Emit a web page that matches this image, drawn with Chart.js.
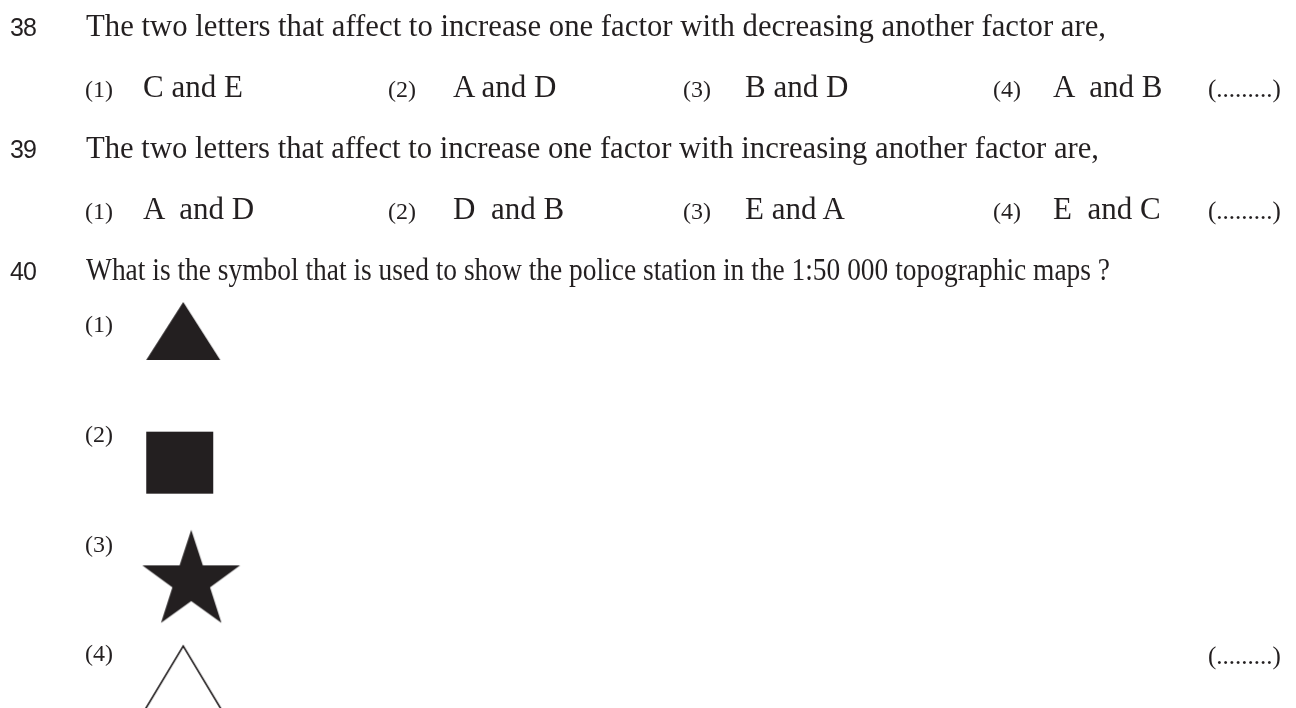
<!DOCTYPE html>
<html>
<head>
<meta charset="utf-8">
<script src="https://cdn.jsdelivr.net/npm/chart.js@4.4.1/dist/chart.umd.min.js"></script>
<style>
  html, body { margin: 0; padding: 0; background: #ffffff; width: 1296px; height: 708px; overflow: hidden; }
  #page { position: relative; width: 1296px; height: 708px; }
  #symbolCanvas { position: absolute; left: 0; top: 0; }
  .txt { position: absolute; white-space: pre; color: #231f20; line-height: 1; transform-origin: 0 0; }
  .serif { font-family: "Liberation Serif", "Times New Roman", serif; }
  .qnum { font-family: "Liberation Sans", Arial, sans-serif; letter-spacing: -1px; }
</style>
</head>
<body>
<div id="page"><canvas id="symbolCanvas" width="1296" height="708"></canvas></div>
<script>
var questionNumbers = ['38', '39', '40'];
var questionTexts = [
    'The two letters that affect to increase one factor with decreasing another factor are,',
    'The two letters that affect to increase one factor with increasing another factor are,',
    'What is the symbol that is used to show the police station in the 1:50 000 topographic maps ?'
];
var choiceLabels = ['(1)', '(2)', '(3)', '(4)'];
var answers38 = ['C and E', 'A and D', 'B and D', 'A  and B'];
var answers39 = ['A  and D', 'D  and B', 'E and A', 'E  and C'];
var answerBlank = '(.........)';
var symbols40 = ['filledTriangle', 'filledSquare', 'filledStar', 'openTriangle'];

var ink = '#231f20';
var page = document.getElementById('page');

// text rows (baselines), answer columns and where each question line ends
var questionRows = [36, 158, 280];
var questionEnds = [1106, 1099, 1110];
var answerRows = [97, 219];
var labelCols = [85, 388, 683, 993];
var answerCols = [143, 453, 745, 1053];

function putText(str, x, baseline, cls, size, ratio) {
    var el = document.createElement('div');
    el.className = 'txt ' + cls;
    el.style.fontSize = size + 'px';
    el.style.left = x + 'px';
    el.style.top = (baseline - size * ratio) + 'px';
    el.textContent = str;
    page.appendChild(el);
    return el;
}

for (var q = 0; q < questionNumbers.length; q++) {
    putText(questionNumbers[q], 10, questionRows[q], 'qnum', 25, 0.8465);
    var line = putText(questionTexts[q], 86, questionRows[q], 'serif', 31, 0.8375);
    // the printed lines are set a little tighter than Liberation Serif
    var w = line.getBoundingClientRect().width;
    line.style.transform = 'scaleX(' + ((questionEnds[q] - 86) / w) + ')';
}

var answerSets = [answers38, answers39];
for (var r = 0; r < answerSets.length; r++) {
    for (var c = 0; c < choiceLabels.length; c++) {
        putText(choiceLabels[c], labelCols[c], answerRows[r], 'serif', 24, 0.8375);
        putText(answerSets[r][c], answerCols[c], answerRows[r], 'serif', 31, 0.8375);
    }
    putText(answerBlank, 1208, answerRows[r], 'serif', 25, 0.8375);
}
putText(answerBlank, 1208, 664, 'serif', 25, 0.8375);

// symbol sprites used as point styles
function makeSymbol(kind) {
    var size = 220, m = size / 2;
    var cv = document.createElement('canvas');
    cv.width = size;
    cv.height = size;
    var ctx = cv.getContext('2d');
    ctx.fillStyle = ink;
    ctx.strokeStyle = ink;
    ctx.lineWidth = 1.6;
    ctx.beginPath();
    if (kind === 'filledTriangle') {
        ctx.moveTo(m, m - 24);
        ctx.lineTo(m + 37, m + 34);
        ctx.lineTo(m - 37, m + 34);
        ctx.closePath();
        ctx.fill();
    } else if (kind === 'filledSquare') {
        ctx.rect(m - 37, m - 4, 67, 62);
        ctx.fill();
    } else if (kind === 'filledStar') {
        var cx = m + 8, cy = m + 36, R = 51.4;
        for (var i = 0; i < 10; i++) {
            var a = -Math.PI / 2 + i * Math.PI / 5;
            var rr = i % 2 === 0 ? R : R * 0.385;
            var px = cx + rr * Math.cos(a), py = cy + rr * Math.sin(a);
            if (i === 0) ctx.moveTo(px, py); else ctx.lineTo(px, py);
        }
        ctx.closePath();
        ctx.fill();
    } else {
        ctx.moveTo(m - 48, m + 71);
        ctx.lineTo(m, m - 9);
        ctx.lineTo(m + 48, m + 71);
        ctx.stroke();
    }
    return cv;
}

var symbolPoints = [];
for (var s = 0; s < choiceLabels.length; s++) {
    symbolPoints.push({x: 'symbol', y: choiceLabels[s]});
}

var symbolChart = new Chart(document.getElementById('symbolCanvas'), {
    type: 'scatter',
    data: {
        datasets: [{
            label: 'Question 40',
            data: symbolPoints,
            pointStyle: symbols40.map(makeSymbol),
            pointRadius: 10,
            clip: false
        }]
    },
    options: {
        responsive: false,
        animation: false,
        events: [],
        layout: { padding: { top: 326, bottom: 53, left: 85, right: 1080 } },
        plugins: { legend: { display: false }, tooltip: { enabled: false } },
        scales: {
            x: { type: 'category', labels: ['symbol'], offset: true, display: false },
            y: {
                type: 'category',
                labels: choiceLabels,
                offset: false,
                grid: { display: false, drawTicks: false },
                border: { display: false },
                ticks: {
                    font: { family: 'Liberation Serif', size: 24 },
                    color: ink,
                    padding: 29,
                    crossAlign: 'far'
                }
            }
        }
    }
});
</script>
</body>
</html>
